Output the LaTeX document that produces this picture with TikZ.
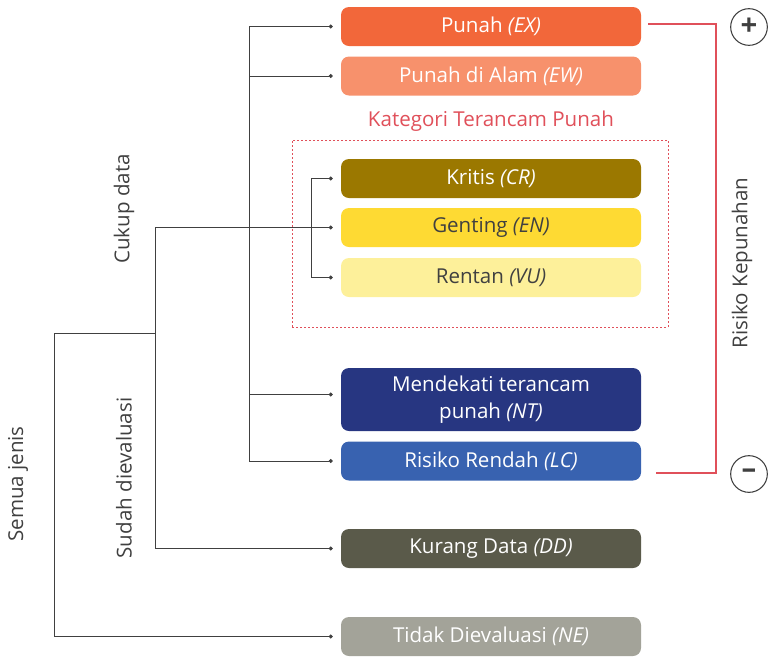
\documentclass[tikz,border=0pt]{standalone}
\usepackage{fontspec}
\setmainfont{Open Sans}
\usepackage{tikz}
\usetikzlibrary{positioning, arrows.meta}

\definecolor{exred}{HTML}{F2673A}
\definecolor{ewsalmon}{HTML}{F7916C}
\definecolor{crolive}{HTML}{9B7800}
\definecolor{enyellow}{HTML}{FEDA33}
\definecolor{vucream}{HTML}{FDF09A}
\definecolor{ntnavy}{HTML}{273681}
\definecolor{lcblue}{HTML}{3862B0}
\definecolor{ddgrey}{HTML}{5A5A4A}
\definecolor{negrey}{HTML}{A3A399}
\definecolor{riskred}{HTML}{E0505A}
\definecolor{inkgrey}{HTML}{404040}

\begin{document}
\begin{tikzpicture}[x=0.75pt,y=-0.75pt,
  every node/.style={font=\fontsize{15.4}{20.5}\selectfont},
  cat/.style={fill=#1, rounded corners=6pt, minimum width=225pt,
    minimum height=29.25pt, inner sep=0pt, align=center, text=white},
  pale/.style={cat=#1, text=inkgrey},
  link/.style={draw=inkgrey, line width=0.7pt},
  tip/.style={link, -{Circle[length=3pt]}, shorten >=6pt},
  side/.style={rotate=90, text=inkgrey},
  sign/.style={circle, draw=inkgrey, line width=0.8pt, minimum size=27.5pt,
    inner sep=0pt, text=inkgrey, font=\fontsize{22}{22}\selectfont\bfseries}]

\useasboundingbox (0,0) rectangle (768,658);

% kategori
\node[cat=exred] (ex) at (491,26.5) {Punah \textit{(EX)}};
\node[cat=ewsalmon] (ew) at (491,76) {Punah di Alam \textit{(EW)}};
\node[cat=crolive] (cr) at (491,178.5) {Kritis \textit{(CR)}};
\node[pale=enyellow] (en) at (491,227.5) {Genting \textit{(EN)}};
\node[pale=vucream] (vu) at (491,277.5) {Rentan \textit{(VU)}};
\node[cat=ntnavy, minimum height=47.25pt] (nt) at (491,399.5) {Mendekati terancam\\punah \textit{(NT)}};
\node[cat=lcblue] (lc) at (491,461) {Risiko Rendah \textit{(LC)}};
\node[cat=ddgrey] (dd) at (491,548.5) {Kurang Data \textit{(DD)}};
\node[cat=negrey] (ne) at (491,636.5) {Tidak Dievaluasi \textit{(NE)}};

\node[draw=riskred, line width=0.6pt, dash pattern=on 1.5pt off 1.5pt,
  minimum width=282pt, minimum height=140.25pt] (zone) at (480,233.5) {};
\node[text=riskred] (zonelabel) at (491,121) {Kategori Terancam Punah};

% label samping
\node[side] (cukup) at (124,209) {Cukup data};
\node[side] (sudah) at (124,478) {Sudah dievaluasi};
\node[side] (semua) at (18,484) {Semua jenis};
\node[side] (risiko) at (742,263) {Risiko Kepunahan};

\node[sign] (plus) at (749,27) {+};
\node[sign] (minus) at (749,474) {–};

% cabang
\coordinate (all) at (54,333);
\coordinate (eval) at (155,333);
\coordinate (enough) at (249,0);
\coordinate (threat) at (311,0);

\draw[link] (ex.west -| enough) -- (lc.west -| enough);
\foreach \n in {ex, ew, lc}
  \draw[tip] (\n.west -| enough) -- (\n.west);
\draw[tip] ([yshift=3.75pt]nt.west -| enough) -- ([yshift=3.75pt]nt.west);

\draw[link] (cr.west -| threat) -- (vu.west -| threat);
\foreach \n in {cr, vu}
  \draw[tip] (\n.west -| threat) -- (\n.west);

\draw[link] (en.west -| eval) -- (dd.west -| eval);
\foreach \n in {en, dd}
  \draw[tip] (\n.west -| eval) -- (\n.west);

\draw[link] (eval) -- (all) -- (ne.west -| all);
\draw[tip] (ne.west -| all) -- (ne.west);

% risiko
\coordinate (hi) at (648,24);
\coordinate (lo) at (656,473);
\coordinate (riskx) at (716,0);
\draw[riskred, line width=0.8pt] (hi) -| (lo -| riskx) -- (lo);

\end{tikzpicture}
\end{document}
